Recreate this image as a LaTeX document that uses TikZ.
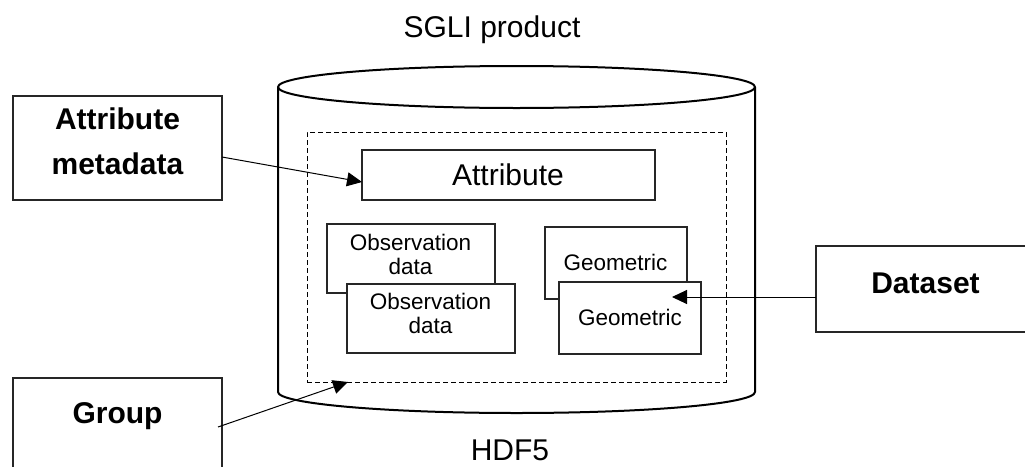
\documentclass[tikz,border=0pt]{standalone}
\usepackage{fontspec}
\setmainfont{Liberation Sans}
\usetikzlibrary{arrows.meta}
\begin{document}
\begin{tikzpicture}[x=1pt,y=-1pt,
  box/.style={draw=black!85, line width=1.2pt, fill=white, inner sep=0pt, outer sep=0pt},
  bigfont/.style={font=\fontsize{30}{45}\selectfont},
  boldfont/.style={font=\fontsize{30}{45}\selectfont\bfseries},
  smallfont/.style={font=\fontsize{22.5}{24}\selectfont},
  txt/.style={inner sep=0pt, outer sep=0pt, align=center},
  arr/.style={line width=1pt, -{Triangle[length=15pt,width=14pt]}},
  cyl/.style={line width=2pt, line join=round}]
\clip (0,0) rectangle (1025,466);
\fill[white] (0,0) rectangle (1025,466);

% titles
\node[txt, bigfont, anchor=base] (title) at (492,37) {SGLI product};
\node[txt, bigfont, anchor=base] (fmt) at (510,460) {HDF5};

% HDF5 container drawn as a cylinder
\draw[cyl, fill=white] (278,87) -- (278,392)
  arc[start angle=180, end angle=360, x radius=238.5pt, y radius=21pt]
  -- (755,87);
\draw[cyl] (516.5,87) ellipse [x radius=238.5pt, y radius=21pt];

% group boundary
\node[draw, line width=1pt, dash pattern=on 5pt off 3pt, inner sep=0pt, outer sep=0pt,
  minimum width=419pt, minimum height=250pt] (grp) at (516.5,257) {};

% contents of the group
\node[box, minimum width=293pt, minimum height=50pt] (attr) at (508.5,175) {};
\node[txt, bigfont, anchor=base] (attrtext) at (508,185) {Attribute};

\node[box, minimum width=168pt, minimum height=69pt] (obsback) at (411,258.5) {};
\node[txt, smallfont] (obsbacktext) at (410.5,254) {Observation\\data};
\node[box, minimum width=168pt, minimum height=69pt] (obsfront) at (431,318.5) {};
\node[txt, smallfont] (obsfronttext) at (430.5,313) {Observation\\data};

\node[box, minimum width=142pt, minimum height=72pt] (geoback) at (616,263) {};
\node[txt, smallfont, anchor=base] (geobacktext) at (615.5,270) {Geometric};
\node[box, minimum width=142pt, minimum height=72pt] (geofront) at (630,318) {};
\node[txt, smallfont, anchor=base] (geofronttext) at (630,325) {Geometric};

% outside labels
\node[box, minimum width=209pt, minimum height=104pt] (meta) at (117.5,148) {};
\node[txt, boldfont] (metatext) at (117.5,141.75) {Attribute\\metadata};

\node[box, minimum width=219pt, minimum height=86pt] (dataset) at (925.5,289) {};
\node[txt, boldfont, anchor=base] (datasettext) at (925.5,293) {Dataset};

\node[box, minimum width=209pt, minimum height=104pt] (group) at (117.5,430) {};
\node[txt, boldfont, anchor=base] (grouptext) at (117.5,423) {Group};

% connectors
\coordinate (geotip) at (672,297);
\draw[arr] ([yshift=-9pt]meta.east) -- ([yshift=-7pt]attr.west);
\draw[arr] ([yshift=-8pt]dataset.west) -- (geotip);
\draw[arr] ([xshift=-4pt,yshift=3pt]group.east) -- ([xshift=-168.5pt]grp.south);
\end{tikzpicture}
\end{document}
